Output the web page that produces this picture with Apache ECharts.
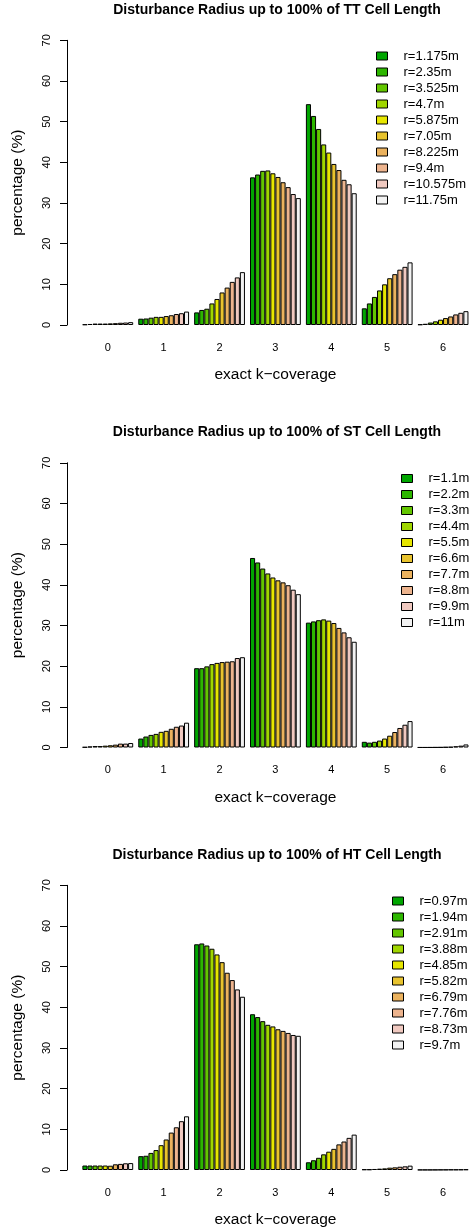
<!DOCTYPE html>
<html>
<head>
<meta charset="utf-8">
<script src="https://cdn.jsdelivr.net/npm/echarts@6/dist/echarts.min.js"></script>
<style>
  html, body { margin: 0; padding: 0; background: #fff; }
  #chart { width: 471px; height: 1231px; }
</style>
</head>
<body>
<div id="chart"></div>
<script>
// Exact k-coverage categories (x axis)
const coverage = ['0', '1', '2', '3', '4', '5', '6'];
const yTicks = { min: 0, max: 70, interval: 10 };

// Disturbance radii for each cell type
const ttRadii = ['r=1.175m', 'r=2.35m', 'r=3.525m', 'r=4.7m', 'r=5.875m', 'r=7.05m', 'r=8.225m', 'r=9.4m', 'r=10.575m', 'r=11.75m'];
const stRadii = ['r=1.1m', 'r=2.2m', 'r=3.3m', 'r=4.4m', 'r=5.5m', 'r=6.6m', 'r=7.7m', 'r=8.8m', 'r=9.9m', 'r=11m'];
const htRadii = ['r=0.97m', 'r=1.94m', 'r=2.91m', 'r=3.88m', 'r=4.85m', 'r=5.82m', 'r=6.79m', 'r=7.76m', 'r=8.73m', 'r=9.7m'];

// Percentages: one row per k value, one entry per radius (same order as the radii)
const ttK0 = [0.15, 0.25, 0.35, 0.35, 0.35, 0.4, 0.45, 0.55, 0.6, 0.7];
const ttK1 = [1.55, 1.6, 1.8, 2.0, 2.0, 2.2, 2.4, 2.7, 2.9, 3.3];
const ttK2 = [3.1, 3.7, 4.0, 5.3, 6.4, 8.0, 9.2, 10.6, 11.7, 13.0];
const ttK3 = [36.3, 37.0, 37.9, 38.0, 37.3, 36.4, 35.1, 33.9, 32.2, 31.2];
const ttK4 = [54.3, 51.4, 48.2, 44.4, 42.4, 39.6, 38.1, 35.7, 34.6, 32.4];
const ttK5 = [4.1, 5.3, 6.9, 8.5, 10.0, 11.5, 12.5, 13.6, 14.3, 15.4];
const ttK6 = [0.15, 0.3, 0.6, 0.9, 1.3, 1.7, 2.1, 2.6, 3.0, 3.4];

const stK0 = [0.1, 0.25, 0.35, 0.35, 0.45, 0.55, 0.7, 0.95, 0.95, 1.1];
const stK1 = [2.2, 2.7, 3.1, 3.35, 3.85, 4.1, 4.6, 5.1, 5.4, 6.1];
const stK2 = [19.5, 19.5, 19.95, 20.5, 20.8, 21.0, 21.1, 21.2, 22.0, 22.2];
const stK3 = [46.6, 45.5, 44.0, 42.8, 41.8, 41.1, 40.6, 39.9, 38.8, 37.7];
const stK4 = [30.7, 31.0, 31.3, 31.5, 31.2, 30.6, 29.4, 28.3, 27.1, 26.0];
const stK5 = [1.4, 1.2, 1.4, 1.7, 2.2, 2.9, 3.8, 4.8, 5.6, 6.5];
const stK6 = [0.02, 0.02, 0.03, 0.04, 0.06, 0.1, 0.15, 0.3, 0.45, 0.75];

const htK0 = [1.1, 1.1, 1.1, 1.1, 1.1, 1.05, 1.4, 1.5, 1.65, 1.7];
const htK1 = [3.4, 3.5, 4.2, 4.9, 6.1, 7.5, 9.2, 10.5, 12.0, 13.2];
const htK2 = [55.5, 55.7, 55.2, 54.4, 53.0, 51.1, 48.5, 46.7, 44.4, 42.6];
const htK3 = [38.3, 37.6, 36.6, 35.7, 35.3, 34.6, 34.2, 33.7, 33.2, 33.0];
const htK4 = [1.9, 2.4, 3.0, 3.85, 4.5, 5.2, 6.3, 7.0, 7.9, 8.7];
const htK5 = [0.16, 0.16, 0.25, 0.33, 0.4, 0.57, 0.65, 0.8, 0.9, 1.07];
const htK6 = [0.05, 0.05, 0.05, 0.06, 0.07, 0.08, 0.1, 0.1, 0.12, 0.15];

// terrain.colors(10)
const palette = ['#00A600', '#2DB600', '#63C600', '#A0D600', '#E6E600', '#E8C32E', '#EBB25E', '#EDB48E', '#F0C9C0', '#F2F2F2'];

const panels = [
  { title: 'Disturbance Radius up to 100% of TT Cell Length', radii: ttRadii, rows: [ttK0, ttK1, ttK2, ttK3, ttK4, ttK5, ttK6], legendLeft: 376 },
  { title: 'Disturbance Radius up to 100% of ST Cell Length', radii: stRadii, rows: [stK0, stK1, stK2, stK3, stK4, stK5, stK6], legendLeft: 401 },
  { title: 'Disturbance Radius up to 100% of HT Cell Length', radii: htRadii, rows: [htK0, htK1, htK2, htK3, htK4, htK5, htK6], legendLeft: 392 }
];

const FONT = '"Liberation Sans", Arial, Helvetica, sans-serif';
const PANEL_STEP = 422.5;
const GRID_LEFT = 79.85;
const GRID_WIDTH = 394.1;
const GRID_TOP = 40.3;
const GRID_HEIGHT = 284.7;
const Y_AXIS_X = 67;

const option = {
  animation: false,
  backgroundColor: '#ffffff',
  title: [], legend: [], grid: [], xAxis: [], yAxis: [], series: []
};

panels.forEach((p, pi) => {
  const dy = pi * PANEL_STEP;
  option.title.push({
    text: p.title,
    left: 277, top: 3 + dy, padding: 0, textAlign: 'center',
    textStyle: { fontFamily: FONT, fontSize: 14, fontWeight: 'bold', color: '#000' }
  });
  option.grid.push({ left: GRID_LEFT, top: GRID_TOP + dy, width: GRID_WIDTH, height: GRID_HEIGHT, containLabel: false });
  option.xAxis.push({
    type: 'category', gridIndex: pi, data: coverage,
    axisLine: { show: false }, axisTick: { show: false },
    axisLabel: { fontFamily: FONT, fontSize: 11, color: '#000', margin: 17 },
    name: 'exact k\u2212coverage', nameLocation: 'middle', nameGap: 42,
    nameTextStyle: { fontFamily: FONT, fontSize: 15.5, color: '#000' }
  });
  option.yAxis.push({
    type: 'value', gridIndex: pi, min: yTicks.min, max: yTicks.max, interval: yTicks.interval,
    offset: GRID_LEFT - Y_AXIS_X,
    axisLine: { show: true, lineStyle: { color: '#000', width: 1 } },
    axisTick: { show: true, length: 7, lineStyle: { color: '#000', width: 1 } },
    splitLine: { show: false },
    axisLabel: { fontFamily: FONT, fontSize: 11, color: '#000', rotate: 90, margin: 15 },
    name: 'percentage (%)', nameLocation: 'middle', nameRotate: 90, nameGap: 41,
    nameTextStyle: { fontFamily: FONT, fontSize: 15.5, color: '#000' }
  });
  option.legend.push({
    orient: 'vertical', left: p.legendLeft, top: 49 + dy, padding: 0,
    icon: 'rect', itemWidth: 11, itemHeight: 8, itemGap: 2, selectedMode: false,
    data: p.radii,
    itemStyle: { borderColor: '#000', borderWidth: 1 },
    textStyle: { fontFamily: FONT, fontSize: 13, color: '#000', lineHeight: 14, padding: [0, 0, 0, 11] }
  });
  p.radii.forEach((name, ri) => {
    option.series.push({
      type: 'bar', name: name, xAxisIndex: pi, yAxisIndex: pi,
      data: p.rows.map(row => row[ri]),
      barGap: '0%', barCategoryGap: '9.09%',
      itemStyle: { color: palette[ri], borderColor: '#000', borderWidth: 1 }
    });
  });
});

const chart = echarts.init(document.getElementById('chart'), null, { renderer: 'canvas' });
chart.setOption(option);
</script>
</body>
</html>
